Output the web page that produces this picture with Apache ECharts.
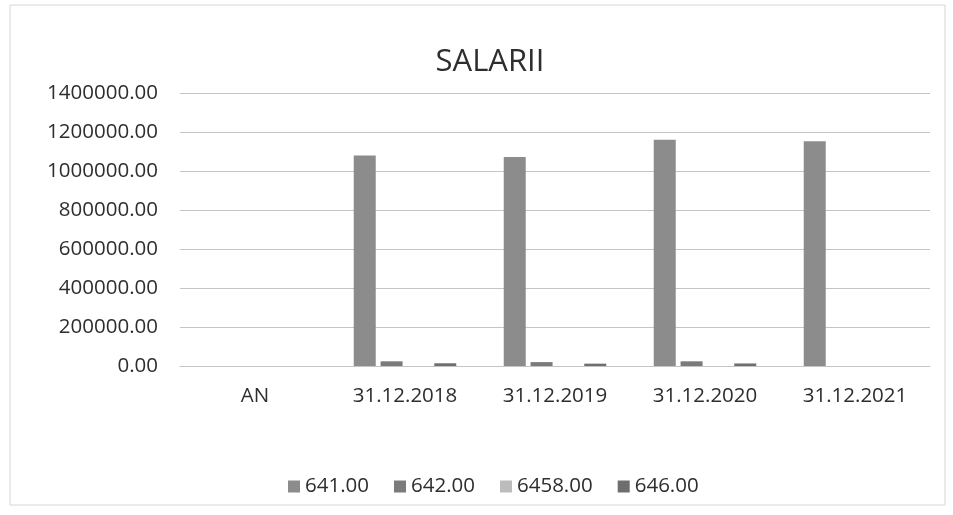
<!DOCTYPE html>
<html>
<head>
<meta charset="utf-8">
<script src="https://cdn.jsdelivr.net/npm/echarts@6/dist/echarts.min.js"></script>
<style>
html, body { margin: 0; padding: 0; background: #fff; }
#chart { width: 953px; height: 515px; }
</style>
</head>
<body>
<div id="chart"></div>
<script>
// date
var categorii = ['AN', '31.12.2018', '31.12.2019', '31.12.2020', '31.12.2021'];
var serii = ['641.00', '642.00', '6458.00', '646.00'];
var val641 = [0, 1080000, 1072000, 1160000, 1152000];
var val642 = [0, 24000, 20000, 24000, 0];
var val6458 = [0, 0, 0, 0, 0];
var val646 = [0, 14000, 12000, 13000, 0];
var culori = ['#8c8c8c', '#7b7b7b', '#bcbcbc', '#6e6e6e'];

var chart = echarts.init(document.getElementById('chart'));
var font = '"Open Sans", sans-serif';

function serie(nume, date, i) {
     return {
          name: nume,
          type: 'bar',
          data: date,
          barWidth: 22,
          barGap: '22%',
          itemStyle: { color: culori[i] }
     };
}

chart.setOption({
     backgroundColor: '#fff',
     animation: false,
     title: {
          text: 'SALARII',
          left: 485,
          top: 42,
          textAlign: 'center',
          textStyle: { fontFamily: font, fontSize: 31, fontWeight: 'normal', color: '#2e2e2e' }
     },
     graphic: [{
          type: 'rect',
          shape: { x: 10, y: 5, width: 935, height: 500 },
          style: { fill: 'none', stroke: '#d6d6d6', lineWidth: 1 }
     }],
     legend: {
          data: serii,
          bottom: 13,
          left: 283,
          itemWidth: 12,
          itemHeight: 12,
          itemGap: 25,
          icon: 'rect',
          textStyle: { fontFamily: font, fontSize: 20.5, color: '#2e2e2e' }
     },
     grid: { left: 180, right: 23, top: 93, bottom: 149 },
     xAxis: {
          type: 'category',
          data: categorii,
          axisLine: { show: true, lineStyle: { color: '#c4c4c4' } },
          axisTick: { show: false },
          axisLabel: { fontFamily: font, fontSize: 20.5, color: '#2e2e2e', margin: 20 }
     },
     yAxis: {
          type: 'value',
          min: 0,
          max: 1400000,
          interval: 200000,
          axisLine: { show: false },
          axisTick: { show: false },
          splitLine: { lineStyle: { color: '#c4c4c4' } },
          axisLabel: {
               fontFamily: font, fontSize: 20.5, color: '#2e2e2e', margin: 22,
               formatter: function (v) { return v.toFixed(2); }
          }
     },
     series: [
          serie(serii[0], val641, 0),
          serie(serii[1], val642, 1),
          serie(serii[2], val6458, 2),
          serie(serii[3], val646, 3)
     ]
});
</script>
</body>
</html>
